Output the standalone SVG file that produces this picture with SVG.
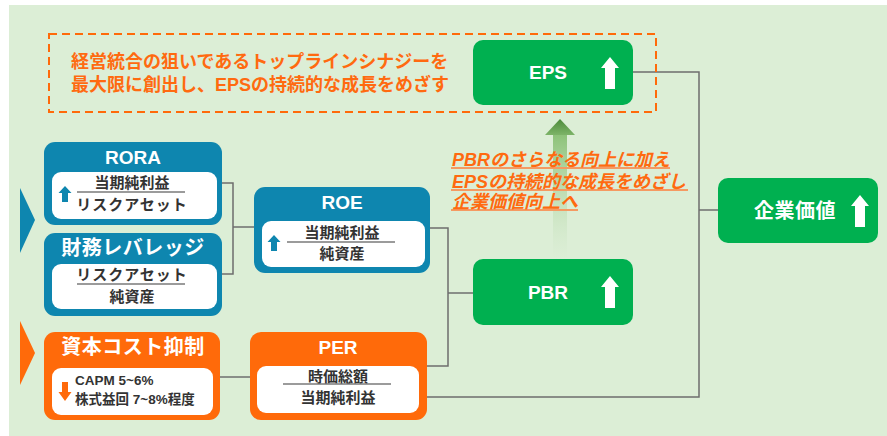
<svg xmlns="http://www.w3.org/2000/svg" width="887" height="436" viewBox="0 0 887 436">
<style>
.t{font-family:"Liberation Sans","Noto Sans CJK JP",sans-serif;font-weight:bold}
.ti{fill:#fff;font-size:19px;text-anchor:middle}
.tj{fill:#fff;font-size:20px;text-anchor:middle;letter-spacing:0.5px}
.in{fill:#333;font-size:15px;text-anchor:middle}
.sm{fill:#333;font-size:13.5px}
.or{fill:#FF6A10;font-size:18px}
.blue{fill:#0E86AF}
.orange{fill:#FF6A0A}
.green{fill:#00B050}
.white{fill:#fff}
.frac{stroke:#7a7a7a;stroke-width:1.5}
.ul{stroke:#F59A62;stroke-width:2}
.conn{fill:none;stroke:#6e6e6e;stroke-width:1.5}
</style>
<defs>
<path id="bigUp" d="M0,0 L9,11 H5 V32 H-5 V11 H-9 Z" fill="#fff"/>
<path id="smUp" d="M0,0 L6.5,7 H3 V16 H-3 V7 H-6.5 Z"/>
<linearGradient id="gHead" x1="0" y1="0" x2="0" y2="1">
<stop offset="0" stop-color="#4C8A3A"/>
<stop offset="1" stop-color="#7DB468"/>
</linearGradient>
<linearGradient id="gShaft" x1="0" y1="0" x2="0" y2="1">
<stop offset="0" stop-color="#8DC279"/>
<stop offset="1" stop-color="#DCEED6" stop-opacity="0.3"/>
</linearGradient>
</defs>
<rect x="0" y="0" width="887" height="436" fill="#fff"/>
<rect x="9" y="5" width="878" height="431" fill="#DCEED6"/>

<g id="left-markers">
<polygon points="20,188 35,220 20,253" class="blue"/>
<polygon points="20,321 35,353 20,385" class="orange"/>
</g>

<g id="connectors">
<path class="conn" d="M222,183 H233 V274 H222"/>
<path class="conn" d="M233,227 H254"/>
<path class="conn" d="M430,228 H448 V366 H427"/>
<path class="conn" d="M448,293 H473"/>
<path class="conn" d="M220,377 H250"/>
<path class="conn" d="M633,72 H699 V397 H427"/>
<path class="conn" d="M699,210 H718"/>
<rect x="553" y="135" width="14" height="124" fill="url(#gShaft)"/>
<polygon points="560,119 575,135 545,135" fill="url(#gHead)"/>
</g>

<g id="goal-note">
<rect x="49" y="34" width="607" height="78" fill="none" stroke="#FF6A0A" stroke-width="2" stroke-dasharray="8 5"/>
<text class="t or" x="71" y="68">経営統合の狙いであるトップラインシナジーを</text>
<text class="t or" x="71" y="91">最大限に創出し、EPSの持続的な成長をめざす</text>
</g>

<g id="eps">
<rect x="473" y="40" width="160" height="65" rx="10" class="green"/>
<text class="t ti" x="548" y="79">EPS</text>
<use href="#bigUp" x="610" y="57"/>
</g>

<g id="pbr">
<rect x="473" y="259" width="160" height="66" rx="10" class="green"/>
<text class="t ti" x="548" y="299">PBR</text>
<use href="#bigUp" x="610" y="276"/>
</g>

<g id="kigyo-kachi">
<rect x="718" y="178" width="160" height="65" rx="10" class="green"/>
<text class="t tj" x="795" y="218">企業価値</text>
<use href="#bigUp" x="860" y="195"/>
</g>

<g id="pbr-note">
<line class="ul" x1="451" y1="168" x2="670" y2="168"/>
<line class="ul" x1="451" y1="190" x2="688" y2="190"/>
<line class="ul" x1="451" y1="210" x2="578" y2="210"/>
<text class="t or" x="452" y="166" font-style="italic">PBRのさらなる向上に加え</text>
<text class="t or" x="452" y="188" font-style="italic">EPSの持続的な成長をめざし</text>
<text class="t or" x="452" y="208" font-style="italic">企業価値向上へ</text>
</g>

<g id="rora">
<rect x="44" y="142" width="178" height="83" rx="11" class="blue"/>
<rect x="52" y="172" width="165" height="47" rx="9" class="white"/>
<text class="t ti" x="133" y="164">RORA</text>
<use href="#smUp" x="65" y="186" class="blue"/>
<text class="t in" x="132" y="188">当期純利益</text>
<line class="frac" x1="77" y1="192" x2="185" y2="192"/>
<text class="t in" x="132" y="210" letter-spacing="1">リスクアセット</text>
</g>

<g id="zaimu-leverage">
<rect x="44" y="233" width="178" height="83" rx="11" class="blue"/>
<rect x="52" y="264" width="165" height="45" rx="9" class="white"/>
<text class="t tj" x="133" y="255">財務レバレッジ</text>
<text class="t in" x="132" y="280" letter-spacing="1">リスクアセット</text>
<line class="frac" x1="77" y1="284" x2="185" y2="284"/>
<text class="t in" x="132" y="302">純資産</text>
</g>

<g id="roe">
<rect x="254" y="187" width="176" height="86" rx="11" class="blue"/>
<rect x="262" y="221" width="163" height="46" rx="9" class="white"/>
<text class="t ti" x="342" y="209">ROE</text>
<use href="#smUp" x="274" y="235" class="blue"/>
<text class="t in" x="342" y="238">当期純利益</text>
<line class="frac" x1="287" y1="242" x2="395" y2="242"/>
<text class="t in" x="342" y="259">純資産</text>
</g>

<g id="capital-cost">
<rect x="44" y="332" width="176" height="88" rx="11" class="orange"/>
<rect x="52" y="368" width="161" height="47" rx="9" class="white"/>
<text class="t tj" x="133" y="354">資本コスト抑制</text>
<path d="M-3,0 H3 V10 H6.5 L0,19 L-6.5,10 H-3 Z" transform="translate(65,382)" class="orange"/>
<text class="t sm" x="75" y="385">CAPM 5~6%</text>
<text class="t sm" x="75" y="404">株式益回 7~8%程度</text>
</g>

<g id="per">
<rect x="250" y="332" width="177" height="88" rx="11" class="orange"/>
<rect x="257" y="366" width="162" height="47" rx="9" class="white"/>
<text class="t ti" x="338" y="354">PER</text>
<text class="t in" x="338" y="382">時価総額</text>
<line class="frac" x1="283" y1="384" x2="391" y2="384"/>
<text class="t in" x="338" y="403">当期純利益</text>
</g>
</svg>
